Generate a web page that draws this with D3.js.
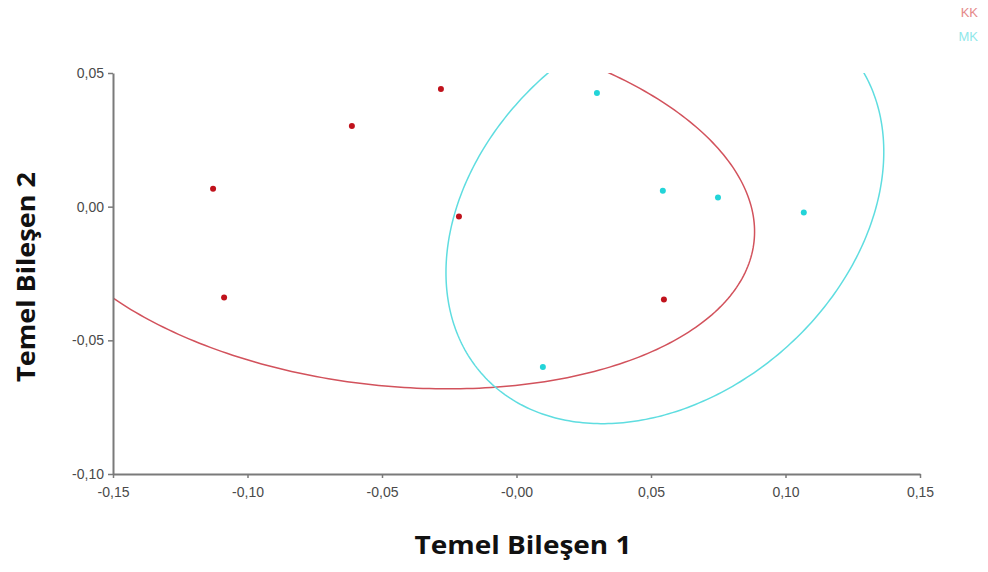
<!DOCTYPE html>
<html><head><meta charset="utf-8">
<script src="https://cdn.jsdelivr.net/npm/d3@7"></script>
<style>body{margin:0;background:#fff}</style>
</head><body><svg id="c" width="988" height="572"></svg>
<script>
const groups = ["KK", "MK"];
const kkX = [-0.1128, -0.1087, -0.0612, -0.0281, -0.0214, 0.0548];
const kkY = [0.0067, -0.0340, 0.0302, 0.0440, -0.0037, -0.0347];
const mkX = [0.0299, 0.0544, 0.0749, 0.1068, 0.0098];
const mkY = [0.0425, 0.0060, 0.0034, -0.0022, -0.0600];
const xTicks = [-0.15, -0.10, -0.05, 0.00, 0.05, 0.10, 0.15];
const xTickLabels = ["-0,15", "-0,10", "-0,05", "-0,00", "0,05", "0,10", "0,15"];
const yTicks = [0.05, 0.00, -0.05, -0.10];
const yTickLabels = ["0,05", "0,00", "-0,05", "-0,10"];
const confChi2 = 4.605; // 90% ellipse, 2 df

const pointColors = {KK: "#c0121c", MK: "#22d4d8"};
const lineColors = {KK: "#d2525c", MK: "#5fdde0"};
const legendColors = {KK: "#e58a8a", MK: "#8fe8ea"};

const svg = d3.select("#c");
const x = d3.scaleLinear().domain([-0.15, 0.15]).range([113, 920]);
const y = d3.scaleLinear().domain([-0.10, 0.05]).range([474, 73]);

svg.append("defs").append("clipPath").attr("id", "clip")
  .append("rect").attr("x", 113).attr("y", 73).attr("width", 807).attr("height", 401);

function ellipse(xs, ys) {
  const n = xs.length;
  const mx = d3.mean(xs), my = d3.mean(ys);
  let sxx = 0, syy = 0, sxy = 0;
  for (let i = 0; i < n; i++) {
    sxx += (xs[i]-mx)**2; syy += (ys[i]-my)**2; sxy += (xs[i]-mx)*(ys[i]-my);
  }
  sxx /= n-1; syy /= n-1; sxy /= n-1;
  const tr = sxx + syy, det = sxx*syy - sxy*sxy;
  const d = Math.sqrt(tr*tr/4 - det);
  const l1 = tr/2 + d, l2 = tr/2 - d;
  const th = Math.atan2(l1 - sxx, sxy);
  const a = Math.sqrt(confChi2*l1), b = Math.sqrt(confChi2*l2);
  return d3.range(0, 361).map(t => {
    const r = t*Math.PI/180;
    const ex = a*Math.cos(r), ey = b*Math.sin(r);
    return [mx + ex*Math.cos(th) - ey*Math.sin(th), my + ex*Math.sin(th) + ey*Math.cos(th)];
  });
}

const data = {KK: [kkX, kkY], MK: [mkX, mkY]};
const line = d3.line().x(d => x(d[0])).y(d => y(d[1]));
const g = svg.append("g").attr("clip-path", "url(#clip)");
groups.forEach(k => {
  g.append("path").attr("d", line(ellipse(data[k][0], data[k][1])))
    .attr("fill", "none").attr("stroke", lineColors[k]).attr("stroke-width", 1.5);
});

// axes
const xAxis = svg.append("g").attr("transform", "translate(0,474)")
  .call(d3.axisBottom(x).tickValues(xTicks).tickFormat((d,i) => xTickLabels[i]).tickSize(4).tickSizeOuter(0));
const yAxis = svg.append("g").attr("transform", "translate(113,0)")
  .call(d3.axisLeft(y).tickValues(yTicks).tickFormat((d,i) => yTickLabels[i]).tickSize(5).tickSizeOuter(0));
[xAxis, yAxis].forEach(a => {
  a.select(".domain").attr("stroke", "#7a7a7a").attr("stroke-width", 2);
  a.selectAll(".tick line").attr("stroke", "#7a7a7a").attr("stroke-width", 1.5);
  a.selectAll("text").attr("fill", "#4a4a4a").attr("font-family", "Liberation Sans, Arial, sans-serif").attr("font-size", 14);
});
xAxis.selectAll("text").attr("y", 13).attr("dy", "0.71em");
yAxis.selectAll("text").attr("x", -9);

groups.forEach(k => {
  svg.append("g").selectAll("circle").data(d3.range(data[k][0].length)).join("circle")
    .attr("cx", i => x(data[k][0][i])).attr("cy", i => y(data[k][1][i]))
    .attr("r", 3).attr("fill", pointColors[k]);
});

// titles
svg.append("text").attr("x", 523).attr("y", 554).attr("text-anchor", "middle")
  .attr("font-family", "Open Sans, sans-serif").attr("font-weight", "bold").attr("font-size", 25)
  .attr("textLength", 217).attr("lengthAdjust", "spacingAndGlyphs")
  .attr("fill", "#111").text("Temel Bileşen 1");
svg.append("text").attr("transform", "translate(35,277) rotate(-90)").attr("text-anchor", "middle")
  .attr("font-family", "Open Sans, sans-serif").attr("font-weight", "bold").attr("font-size", 25)
  .attr("textLength", 210).attr("lengthAdjust", "spacingAndGlyphs")
  .attr("fill", "#111").text("Temel Bileşen 2");

// legend
groups.forEach((k, i) => {
  svg.append("text").attr("x", 978).attr("y", 17 + i*24).attr("text-anchor", "end")
    .attr("font-family", "Liberation Sans, Arial, sans-serif").attr("font-size", 13)
    .attr("fill", legendColors[k]).text(k);
});
</script></body></html>
